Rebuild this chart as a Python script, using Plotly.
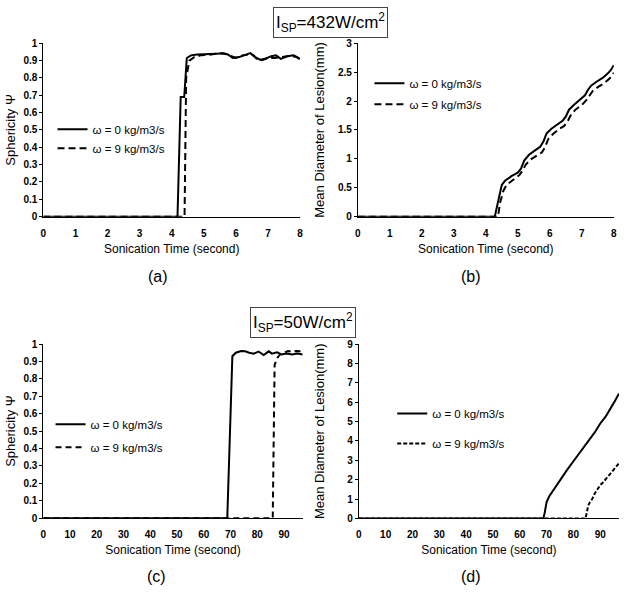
import plotly.graph_objects as go

W, H = 624, 594

# ---------------- data ----------------
# (a) Sphericity, I_SP = 432 W/cm2
a_t_w0 = [0, 4.18, 4.28, 4.39, 4.47, 4.6, 4.8, 5.0, 5.2, 5.4, 5.6, 5.75, 5.9, 6.1, 6.3, 6.45, 6.6, 6.75, 6.9, 7.1, 7.25, 7.4, 7.6, 7.8, 8.0]
a_v_w0 = [0, 0, 0.69, 0.69, 0.915, 0.93, 0.935, 0.935, 0.938, 0.94, 0.942, 0.935, 0.915, 0.92, 0.935, 0.943, 0.92, 0.905, 0.91, 0.925, 0.93, 0.91, 0.925, 0.93, 0.91]
a_t_w9 = [0, 4.4, 4.45, 4.55, 4.7, 4.9, 5.1, 5.3, 5.5, 5.7, 5.85, 6.0, 6.2, 6.4, 6.55, 6.7, 6.85, 7.0, 7.2, 7.35, 7.5, 7.7, 7.9, 8.0]
a_v_w9 = [0, 0, 0.8, 0.9, 0.92, 0.93, 0.932, 0.938, 0.942, 0.938, 0.925, 0.915, 0.93, 0.935, 0.93, 0.9, 0.905, 0.915, 0.915, 0.92, 0.925, 0.928, 0.92, 0.905]

# (b) Mean diameter, I_SP = 432 W/cm2
b_t_w0 = [0, 4.28, 4.4, 4.5, 4.6, 4.8, 5.0, 5.1, 5.2, 5.35, 5.55, 5.7, 5.8, 5.9, 6.05, 6.25, 6.4, 6.5, 6.6, 6.75, 6.95, 7.1, 7.2, 7.3, 7.45, 7.65, 7.8, 7.9, 8.0]
b_v_w0 = [0, 0, 0.3, 0.55, 0.62, 0.7, 0.76, 0.83, 0.97, 1.07, 1.15, 1.21, 1.3, 1.44, 1.52, 1.6, 1.66, 1.73, 1.85, 1.93, 2.02, 2.1, 2.2, 2.27, 2.33, 2.4, 2.47, 2.53, 2.62]
b_t_w9 = [0, 4.38, 4.45, 4.55, 4.65, 4.85, 5.05, 5.15, 5.25, 5.4, 5.6, 5.75, 5.85, 5.95, 6.1, 6.3, 6.45, 6.55, 6.65, 6.8, 7.0, 7.15, 7.25, 7.35, 7.5, 7.7, 7.85, 7.95, 8.0]
b_v_w9 = [0, 0, 0.25, 0.45, 0.55, 0.64, 0.72, 0.8, 0.9, 0.99, 1.06, 1.11, 1.2, 1.34, 1.43, 1.52, 1.57, 1.64, 1.75, 1.85, 1.93, 2.02, 2.1, 2.18, 2.24, 2.31, 2.38, 2.44, 2.49]

# (c) Sphericity, I_SP = 50 W/cm2
c_t_w0 = [0, 68.8, 70.7, 72, 74, 75.5, 77, 78.7, 80.5, 82.4, 84.3, 85.5, 87.4, 89, 91, 93, 95, 97]
c_v_w0 = [0, 0, 0.93, 0.95, 0.96, 0.958, 0.95, 0.945, 0.957, 0.937, 0.958, 0.945, 0.953, 0.94, 0.945, 0.94, 0.945, 0.94]
c_t_w9 = [0, 85.8, 86.5, 87.5, 88.5, 90, 91.5, 93, 94.5, 96, 97]
c_v_w9 = [0, 0, 0.88, 0.92, 0.94, 0.95, 0.96, 0.955, 0.96, 0.958, 0.96]

# (d) Mean diameter, I_SP = 50 W/cm2
d_t_w0 = [0, 68.8, 69.3, 70.0, 71, 72.8, 75, 77.7, 80, 82, 85, 88, 90, 92, 95, 97]
d_v_w0 = [0, 0, 0.3, 0.84, 1.15, 1.52, 2.0, 2.52, 2.95, 3.33, 3.9, 4.45, 4.9, 5.25, 5.95, 6.45]
d_t_w9 = [0, 84.5, 85, 85.5, 86.2, 87, 88, 90, 91, 93.1, 95, 97]
d_v_w9 = [0, 0, 0.3, 0.67, 0.85, 1.0, 1.3, 1.72, 1.85, 2.22, 2.5, 2.85]

series_names = ["ω = 0 kg/m3/s", "ω = 9 kg/m3/s"]
titles = ["I<sub>SP</sub>=432W/cm<sup>2</sup>", "I<sub>SP</sub>=50W/cm<sup>2</sup>"]
panel_labels = ["(a)", "(b)", "(c)", "(d)"]
x_title = "Sonication Time (second)"
y_titles = ["Sphericity Ψ", "Mean Diameter of Lesion(mm)", "Sphericity Ψ", "Mean Diameter of Lesion(mm)"]

FONT = "Liberation Sans, Arial, sans-serif"

def px_x(v):
    return v / W

def px_y(v):
    return 1 - v / H

# panel geometry (pixels)
panels = [
    dict(x0=40.7, x1=300.0, y0=38.0, y1=215.0, xr=[0, 8], xd=1, yr=[0, 1], yd=0.1,
         t0=a_t_w0, v0=a_v_w0, t9=a_t_w9, v9=a_v_w9, dash="7px,4px", lab=(157, 276),
         leg=(50, 111, 0), ystand=4),
    dict(x0=358.3, x1=616.7, y0=38.0, y1=215.0, xr=[0, 8], xd=1, yr=[0, 3], yd=0.5,
         t0=b_t_w0, v0=b_v_w0, t9=b_t_w9, v9=b_v_w9, dash="7px,4px", lab=(473, 276),
         leg=(370, 64, 2), ystand=10),
    dict(x0=40.7, x1=302.6, y0=345.0, y1=522.7, xr=[0, 97], xd=10, yr=[0, 1], yd=0.1,
         t0=c_t_w0, v0=c_v_w0, t9=c_t_w9, v9=c_v_w9, dash="6px,4px", lab=(155, 582),
         leg=(48, 412, 4), ystand=4),
    dict(x0=359.3, x1=622.0, y0=345.0, y1=523.0, xr=[0, 97], xd=10, yr=[0, 9], yd=1,
         t0=d_t_w0, v0=d_v_w0, t9=d_t_w9, v9=d_v_w9, dash="4px,2px", lab=(473, 582),
         leg=(393, 401, 11), ystand=19),
]

fig = go.Figure()
layout = dict(
    width=W, height=H,
    margin=dict(l=0, r=0, t=0, b=0),
    paper_bgcolor="white", plot_bgcolor="white",
    font=dict(family=FONT, color="black"),
    annotations=[],
)

for i, p in enumerate(panels):
    n = "" if i == 0 else str(i + 1)
    xa, ya = "x" + n, "y" + n
    leg = "legend" + n
    fig.add_trace(go.Scatter(x=p["t0"], y=p["v0"], mode="lines", name=series_names[0],
                             line=dict(color="black", width=2),
                             xaxis=xa, yaxis=ya, legend=leg, legendgroup=f"g{i}a"))
    fig.add_trace(go.Scatter(x=p["t9"], y=p["v9"], mode="lines", name=series_names[1],
                             line=dict(color="black", width=2, dash=p["dash"]),
                             xaxis=xa, yaxis=ya, legend=leg, legendgroup=f"g{i}b"))
    layout["xaxis" + n] = dict(
        domain=[px_x(p["x0"]), px_x(p["x1"])], anchor=ya, range=p["xr"], dtick=p["xd"],
        tick0=0, showgrid=False, zeroline=False, showline=True, linecolor="black",
        linewidth=1, ticks="", ticklabelstandoff=7,
        tickfont=dict(family=FONT, size=10, weight="bold"),
        title=dict(text=x_title, font=dict(family=FONT, size=12), standoff=6),
    )
    layout["yaxis" + n] = dict(
        domain=[px_y(p["y1"]), px_y(p["y0"])], anchor=xa, range=p["yr"], dtick=p["yd"],
        tick0=0, showgrid=False, zeroline=False, showline=True, linecolor="black",
        linewidth=1, ticks="outside", ticklen=3, tickcolor="black",
        tickfont=dict(family=FONT, size=10, weight="bold"),
        title=dict(text=y_titles[i], font=dict(family=FONT, size=13), standoff=p["ystand"]),
    )
    lx, ly, gap = p["leg"]
    layout[leg] = dict(x=px_x(lx), y=px_y(ly), xanchor="left", yanchor="top",
                       xref="paper", yref="paper", bgcolor="rgba(0,0,0,0)",
                       font=dict(family=FONT, size=11.5), tracegroupgap=gap,
                       itemwidth=30)
    layout["annotations"].append(dict(
        text=panel_labels[i], x=px_x(p["lab"][0]), y=px_y(p["lab"][1]),
        xref="paper", yref="paper", showarrow=False,
        font=dict(family=FONT, size=16), xanchor="center", yanchor="middle"))

for txt, cx, top in [(titles[0], 330.5, 1), (titles[1], 303, 307)]:
    layout["annotations"].append(dict(
        text=txt, x=px_x(cx), y=px_y(top), xref="paper", yref="paper", showarrow=False,
        font=dict(family=FONT, size=17), xanchor="center", yanchor="top",
        bordercolor="#444", borderwidth=1, borderpad=2, bgcolor="white"))

fig.update_layout(**layout)
fig.write_html(
    "out.html",
    config={"displayModeBar": False},
    post_script="document.body.style.margin='0';document.body.style.overflow='hidden';",
)
